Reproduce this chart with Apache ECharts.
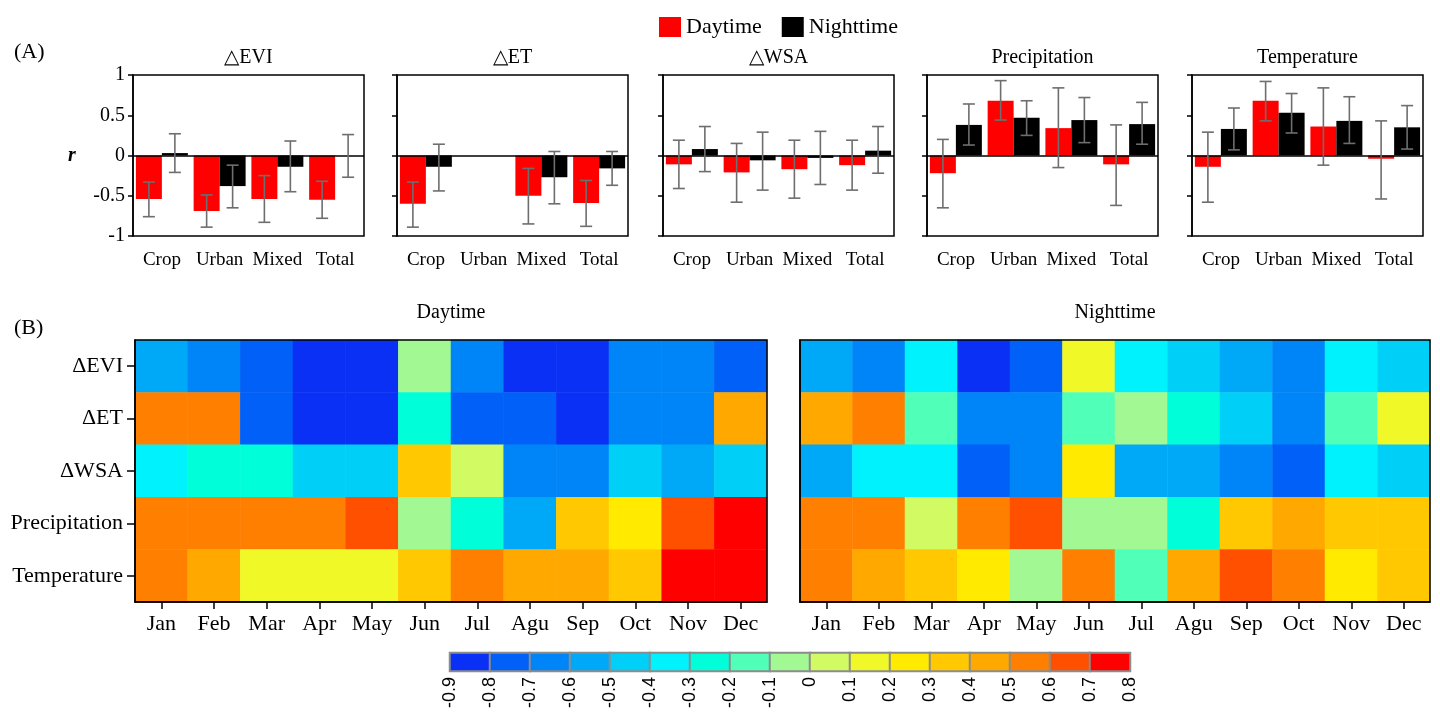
<!DOCTYPE html>
<html>
<head>
<meta charset="utf-8">
<script src="https://cdn.jsdelivr.net/npm/echarts@6/dist/echarts.min.js"></script>
<style>
  html, body { margin: 0; padding: 0; background: #fff; }
  #chart { width: 1440px; height: 712px; }
</style>
</head>
<body>
<div id="chart"></div>
<script>
// ---- Panel A: correlation r by land type ----
const groups = ['Crop', 'Urban', 'Mixed', 'Total'];
const panelTitles = ['\u25B3EVI', '\u25B3ET', '\u25B3WSA', 'Precipitation', 'Temperature'];

const dayR = [
    [-0.54, -0.69, -0.54, -0.55],
    [-0.60, null, -0.50, -0.59],
    [-0.11, -0.21, -0.17, -0.12],
    [-0.22, 0.68, 0.34, -0.11],
    [-0.14, 0.68, 0.36, -0.04]
];
const nightR = [
    [0.03, -0.38, -0.14, 0.00],
    [-0.14, null, -0.27, -0.16],
    [0.08, -0.06, -0.03, 0.06],
    [0.38, 0.47, 0.44, 0.39],
    [0.33, 0.53, 0.43, 0.35]
];
const dayLow = [
    [-0.76, -0.89, -0.83, -0.78],
    [-0.89, null, -0.85, -0.88],
    [-0.41, -0.58, -0.53, -0.43],
    [-0.65, 0.44, -0.15, -0.62],
    [-0.58, 0.43, -0.12, -0.54]
];
const dayHigh = [
    [-0.33, -0.49, -0.25, -0.32],
    [-0.33, null, -0.16, -0.31],
    [0.19, 0.15, 0.19, 0.19],
    [0.20, 0.93, 0.84, 0.38],
    [0.29, 0.92, 0.84, 0.43]
];
const nightLow = [
    [-0.21, -0.65, -0.45, -0.27],
    [-0.44, null, -0.60, -0.37],
    [-0.20, -0.43, -0.36, -0.22],
    [0.13, 0.25, 0.16, 0.14],
    [0.07, 0.28, 0.15, 0.08]
];
const nightHigh = [
    [0.27, -0.12, 0.18, 0.26],
    [0.14, null, 0.05, 0.05],
    [0.36, 0.29, 0.30, 0.36],
    [0.64, 0.68, 0.72, 0.66],
    [0.59, 0.77, 0.73, 0.62]
];
const rTicks = { min: -1, max: 1, interval: 0.5 };

// ---- Panel B: monthly heatmaps ----
const months = ['Jan', 'Feb', 'Mar', 'Apr', 'May', 'Jun', 'Jul', 'Agu', 'Sep', 'Oct', 'Nov', 'Dec'];
const variables = ['\u0394EVI', '\u0394ET', '\u0394WSA', 'Precipitation', 'Temperature'];
const dayHeat = [
    [-0.55, -0.65, -0.75, -0.85, -0.85, -0.05, -0.65, -0.85, -0.85, -0.65, -0.65, -0.75],
    [0.55, 0.55, -0.75, -0.85, -0.85, -0.25, -0.75, -0.75, -0.85, -0.65, -0.65, 0.45],
    [-0.35, -0.25, -0.25, -0.45, -0.45, 0.35, 0.05, -0.65, -0.65, -0.45, -0.55, -0.45],
    [0.55, 0.55, 0.55, 0.55, 0.65, -0.05, -0.25, -0.55, 0.35, 0.25, 0.65, 0.75],
    [0.55, 0.45, 0.15, 0.15, 0.15, 0.35, 0.55, 0.45, 0.45, 0.35, 0.75, 0.75]
];
const nightHeat = [
    [-0.55, -0.65, -0.35, -0.85, -0.75, 0.15, -0.35, -0.45, -0.55, -0.65, -0.35, -0.45],
    [0.45, 0.55, -0.15, -0.65, -0.65, -0.15, -0.05, -0.25, -0.45, -0.65, -0.15, 0.15],
    [-0.55, -0.35, -0.35, -0.75, -0.65, 0.25, -0.55, -0.55, -0.65, -0.75, -0.35, -0.45],
    [0.55, 0.55, 0.05, 0.55, 0.65, -0.05, -0.05, -0.25, 0.35, 0.45, 0.35, 0.35],
    [0.55, 0.45, 0.35, 0.25, -0.05, 0.55, -0.15, 0.45, 0.65, 0.55, 0.25, 0.35]
];

// colour scale: 17 classes between -0.9 and 0.8
const classBreaks = [-0.9, -0.8, -0.7, -0.6, -0.5, -0.4, -0.3, -0.2, -0.1, 0, 0.1, 0.2, 0.3, 0.4, 0.5, 0.6, 0.7, 0.8];
const classColors = [
    '#0a30f5', '#0060f8', '#0085f8', '#00a8f8', '#00cff8', '#00f2fc', '#00ffd8', '#50ffb8', '#a2f892',
    '#d2fa62', '#f0f828', '#ffea00', '#ffc800', '#ffa800', '#ff8000', '#ff5000', '#ff0000'
];
const colorbarValues = [-0.85, -0.75, -0.65, -0.55, -0.45, -0.35, -0.25, -0.15, -0.05, 0.05, 0.15, 0.25, 0.35, 0.45, 0.55, 0.65, 0.75];

const FONT = '"Liberation Serif", "Times New Roman", serif';

const chart = echarts.init(document.getElementById('chart'), null, { renderer: 'canvas' });

const panelLeft = [133, 397, 663, 927, 1192];
const panelW = 231, panelTop = 75, panelH = 161;

const grids = [];
const xAxes = [];
const yAxes = [];
const series = [];
const graphics = [];

// error bar renderer, side -1 = left bar (day), +1 = right bar (night)
function errorBar(side) {
    return function (params, api) {
        const i = api.value(0);
        const lo = api.coord([i, api.value(1)]);
        const hi = api.coord([i, api.value(2)]);
        const band = api.size([1, 0])[0];
        const x = lo[0] + side * band * 0.225;
        const cap = 6;
        const style = { stroke: '#6e6e6e', lineWidth: 1.6 };
        return {
            type: 'group',
            children: [
                { type: 'line', shape: { x1: x, y1: lo[1], x2: x, y2: hi[1] }, style },
                { type: 'line', shape: { x1: x - cap, y1: lo[1], x2: x + cap, y2: lo[1] }, style },
                { type: 'line', shape: { x1: x - cap, y1: hi[1], x2: x + cap, y2: hi[1] }, style }
            ]
        };
    };
}

panelTitles.forEach((title, p) => {
    grids.push({
        left: panelLeft[p], top: panelTop, width: panelW, height: panelH,
        show: true, borderColor: '#000', borderWidth: 1.5, backgroundColor: 'transparent'
    });
    xAxes.push({
        type: 'category', gridIndex: p, data: groups, position: 'bottom',
        axisLine: { show: false }, axisTick: { show: false },
        axisLabel: { color: '#000', fontFamily: FONT, fontSize: 19, margin: 15, interval: 0 }
    });
    yAxes.push({
        type: 'value', gridIndex: p, min: rTicks.min, max: rTicks.max, interval: rTicks.interval,
        axisLine: { show: true, lineStyle: { color: '#000', width: 1.5 } },
        axisTick: { show: true, length: 5, lineStyle: { color: '#000', width: 1.5 } },
        splitLine: { show: false },
        axisLabel: { show: p === 0, color: '#000', fontFamily: FONT, fontSize: 20, margin: 8 }
    });
    series.push({
        name: 'Daytime', type: 'bar', xAxisIndex: p, yAxisIndex: p,
        data: dayR[p], barGap: 0, barCategoryGap: '10%',
        itemStyle: { color: '#ff0000' },
        markLine: {
            silent: true, symbol: ['none', 'none'], label: { show: false },
            lineStyle: { color: '#000', width: 1.5, type: 'solid' },
            data: [{ yAxis: 0 }]
        }
    });
    series.push({
        name: 'Nighttime', type: 'bar', xAxisIndex: p, yAxisIndex: p,
        data: nightR[p], barGap: 0, barCategoryGap: '10%',
        itemStyle: { color: '#000000' }
    });
    series.push({
        type: 'custom', xAxisIndex: p, yAxisIndex: p, z: 5, silent: true,
        renderItem: errorBar(-1),
        data: groups.map((g, i) => [i, dayLow[p][i], dayHigh[p][i]]).filter(d => d[1] !== null)
    });
    series.push({
        type: 'custom', xAxisIndex: p, yAxisIndex: p, z: 5, silent: true,
        renderItem: errorBar(1),
        data: groups.map((g, i) => [i, nightLow[p][i], nightHigh[p][i]]).filter(d => d[1] !== null)
    });
    graphics.push({
        type: 'text', x: panelLeft[p] + panelW / 2, y: 58,
        style: { text: title, font: '20px ' + FONT, fill: '#000', textAlign: 'center', textVerticalAlign: 'middle' }
    });
});

// heatmaps
const heatIdx = [];
const heatDefs = [
    { left: 135, width: 632, data: dayHeat, title: 'Daytime', labels: true },
    { left: 800, width: 630, data: nightHeat, title: 'Nighttime', labels: false }
];
heatDefs.forEach(h => {
    const g = grids.length;
    grids.push({
        left: h.left, top: 340, width: h.width, height: 262,
        show: true, borderColor: '#000', borderWidth: 1.5, backgroundColor: 'transparent', z: 3
    });
    xAxes.push({
        type: 'category', gridIndex: g, data: months, position: 'bottom',
        axisLine: { show: true, lineStyle: { color: '#000', width: 1.5 } },
        axisTick: { show: true, alignWithLabel: true, length: 7, lineStyle: { color: '#000', width: 1.5 } },
        axisLabel: { color: '#000', fontFamily: FONT, fontSize: 22, margin: 11, interval: 0 },
        splitLine: { show: false }, z: 4
    });
    yAxes.push({
        type: 'category', gridIndex: g, data: variables, inverse: true,
        axisLine: { show: true, lineStyle: { color: '#000', width: 1.5 } },
        axisTick: { show: h.labels, alignWithLabel: true, length: 8, lineStyle: { color: '#000', width: 1.5 } },
        axisLabel: { show: h.labels, color: '#000', fontFamily: FONT, fontSize: 22, margin: 12 },
        splitLine: { show: false }, z: 4
    });
    const data = [];
    h.data.forEach((row, r) => row.forEach((v, m) => data.push([m, r, v])));
    heatIdx.push(series.length);
    series.push({
        type: 'heatmap', xAxisIndex: g, yAxisIndex: g, data,
        itemStyle: { borderWidth: 0 }, emphasis: { disabled: true }
    });
    graphics.push({
        type: 'text', x: h.left + h.width / 2, y: 313,
        style: { text: h.title, font: '20px ' + FONT, fill: '#000', textAlign: 'center', textVerticalAlign: 'middle' }
    });
});

// colour bar
const cbGrid = grids.length;
grids.push({ left: 450, top: 653, width: 680, height: 18, show: true, borderColor: '#8c8c8c', borderWidth: 2, backgroundColor: 'transparent' });
const cbCatAxis = xAxes.length;
xAxes.push({
    type: 'category', gridIndex: cbGrid, position: 'top', data: colorbarValues.map(String),
    axisLine: { show: false }, axisTick: { show: false }, axisLabel: { show: false }
});
xAxes.push({
    type: 'value', gridIndex: cbGrid, position: 'bottom',
    min: classBreaks[0], max: classBreaks[classBreaks.length - 1], interval: 0.1,
    axisLine: { show: false }, axisTick: { show: false }, splitLine: { show: false },
    axisLabel: {
        rotate: 90, margin: 6, color: '#000', fontFamily: '"Liberation Sans", Arial, sans-serif', fontSize: 18,
        formatter: v => String(Math.round(v * 10) / 10)
    }
});
const cbYAxis = yAxes.length;
yAxes.push({ type: 'category', gridIndex: cbGrid, data: ['r'], show: false });
heatIdx.push(series.length);
series.push({
    type: 'heatmap', xAxisIndex: cbCatAxis, yAxisIndex: cbYAxis,
    data: colorbarValues.map((v, i) => [i, 0, v]),
    itemStyle: { borderColor: '#8c8c8c', borderWidth: 2 }, emphasis: { disabled: true }
});

const pieces = classColors.map((c, i) => ({ gte: classBreaks[i] - 1e-9, lt: classBreaks[i + 1] - 1e-9, color: c }));

graphics.push(
    { type: 'text', x: 14, y: 52, style: { text: '(A)', font: '22px ' + FONT, fill: '#000', textVerticalAlign: 'middle' } },
    { type: 'text', x: 14, y: 328, style: { text: '(B)', font: '22px ' + FONT, fill: '#000', textVerticalAlign: 'middle' } },
    { type: 'text', x: 72, y: 156, style: { text: 'r', font: 'italic bold 20px ' + FONT, fill: '#000', textAlign: 'center', textVerticalAlign: 'middle' } }
);

chart.setOption({
    backgroundColor: '#fff',
    animation: false,
    legend: {
        data: ['Daytime', 'Nighttime'],
        left: 654, top: 11,
        icon: 'rect', itemWidth: 22, itemHeight: 20, itemGap: 20,
        selectedMode: false,
        textStyle: { color: '#000', fontFamily: FONT, fontSize: 22 }
    },
    grid: grids,
    xAxis: xAxes,
    yAxis: yAxes,
    visualMap: {
        type: 'piecewise', show: false, dimension: 2,
        seriesIndex: heatIdx,
        pieces
    },
    graphic: graphics,
    series
});
</script>
</body>
</html>
